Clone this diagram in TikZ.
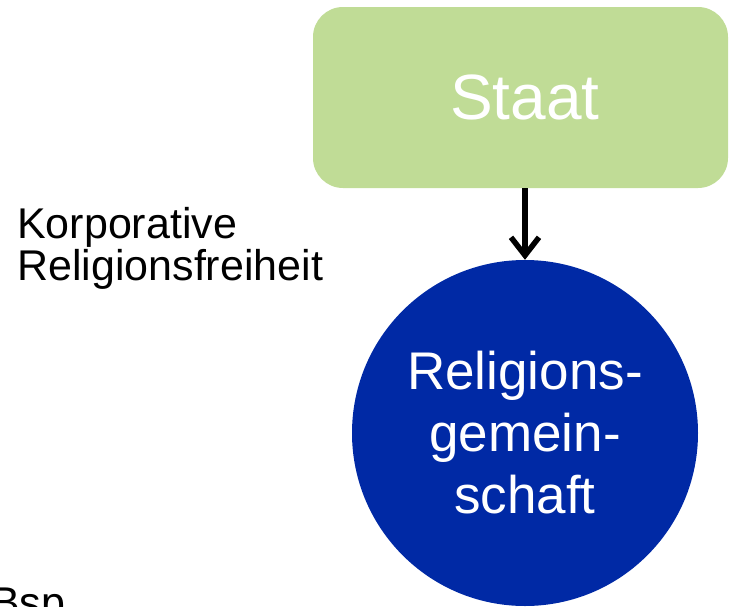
\documentclass[tikz,border=0pt]{standalone}
\usepackage{fontspec}
\setmainfont{Liberation Sans}
\usetikzlibrary{arrows.meta}
\definecolor{staatgreen}{RGB}{192,220,150}
\definecolor{rgblue}{RGB}{0,41,165}
\tikzset{
  staatbox/.style={draw=none, fill=staatgreen, rounded corners=30pt, minimum width=415pt, minimum height=181pt, inner sep=0pt, text=white, font=\fontsize{64}{70}\selectfont},
  rgcircle/.style={circle, draw=none, fill=rgblue, minimum size=346pt, inner sep=0pt, text=white, align=center, font=\fontsize{53}{62}\selectfont},
  plaintext/.style={inner sep=0pt, align=left, font=\fontsize{43}{38}\selectfont},
  bigarrow/.style={line width=5.5pt, -{Straight Barb[length=18pt, width=28pt, line width=5.5pt]}}
}
\begin{document}
\begin{tikzpicture}[x=1pt, y=-1pt]
\useasboundingbox (0,0) rectangle (729,606);
\clip (0,0) rectangle (729,606);
\node[staatbox] (staat) at (520.5,97.5) {\hspace*{9pt}Staat};
\node[rgcircle] (rg) at (525,433) {Religions-\\gemein-\\schaft};
\draw[bigarrow] (staat.south -| rg.north) -- (rg.north);
\node[plaintext, anchor=base west] (korp) at (17,280) {Korporative\\Religionsfreiheit};
\node[plaintext, anchor=base west] (bsp) at (-9,617) {Bsp};
\end{tikzpicture}
\end{document}
